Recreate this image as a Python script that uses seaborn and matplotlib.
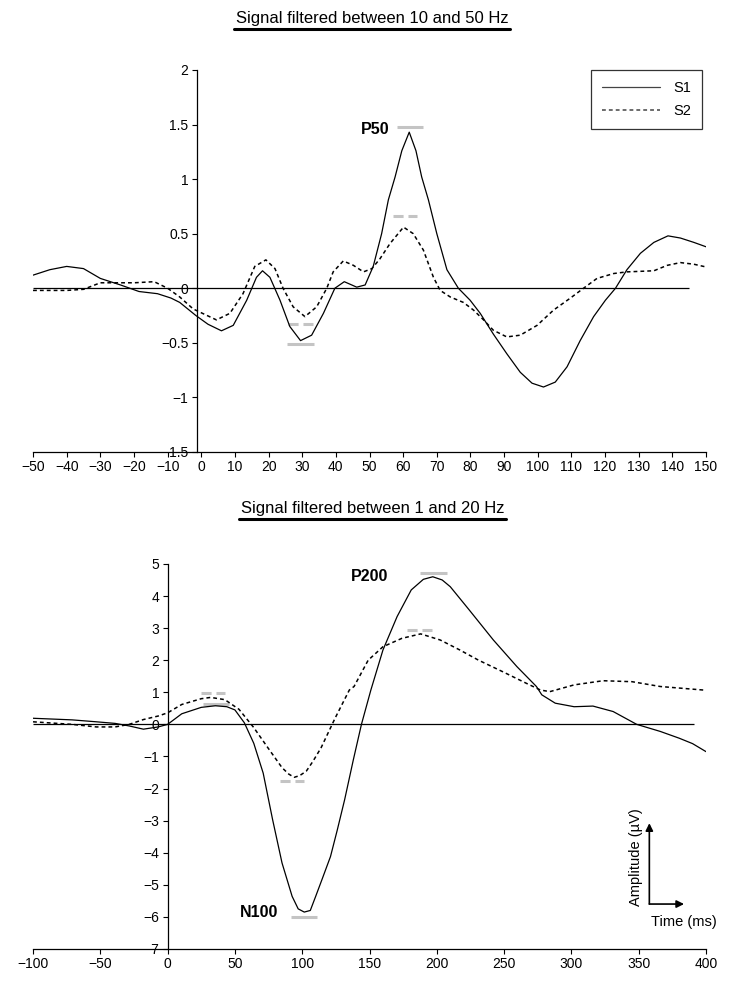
import numpy as np
import pandas as pd
import matplotlib
matplotlib.use('Agg')
import matplotlib.pyplot as plt
import seaborn as sns
from matplotlib.lines import Line2D

# --- signal filtered between 10 and 50 Hz (top panel) ---
top_t_s1 = [-50, -45, -40, -35, -30, -24, -18.5, -13, -9, -6.4, -1.6, 2, 6, 9.5, 13.5, 16.4, 18.2, 20.4, 23.4, 26.3,
            29.5, 32.8, 36.3, 39.7, 42.5, 46.2, 48.7, 51.1, 53.6, 55.6, 57.6, 59.6, 61.8, 63.8, 65.5, 67.5, 70, 73,
            76.4, 79.9, 82.9, 86.8, 90.8, 94.8, 98.3, 101.7, 105.2, 108.7, 112.6, 116.6, 120.1, 123.1, 126.5,
            130.5, 134.5, 138.7, 142.4, 146.4, 150]
top_s1 = [0.12, 0.17, 0.20, 0.18, 0.09, 0.03, -0.03, -0.05, -0.09, -0.13, -0.25, -0.33, -0.39, -0.34, -0.11, 0.10, 0.16, 0.10, -0.11, -0.35,
          -0.48, -0.43, -0.23, 0.0, 0.06, 0.01, 0.03, 0.20, 0.50, 0.81, 1.02, 1.26, 1.43, 1.26, 1.02, 0.81, 0.50, 0.17,
          0.0, -0.11, -0.23, -0.42, -0.60, -0.77, -0.87, -0.905, -0.86, -0.72, -0.48, -0.26, -0.11, 0.0, 0.17,
          0.32, 0.42, 0.48, 0.46, 0.42, 0.38]
top_t_s2 = [-50, -40, -35, -30, -25, -20, -14, -10, -6.4, -2.4, 4.5, 8.5, 12.4, 15.9, 19.2, 21.9, 24.3, 27.3, 30.8, 34.3,
            37.3, 39.2, 42.2, 45.2, 48.2, 50.7, 53.1, 56.1, 60.1, 63, 66, 69, 71, 74, 77.9, 80.9, 83.9, 86.8, 90.8,
            94.8, 99.8, 104.7, 109.7, 113.6, 117.6, 122.6, 126.5, 134.5, 138.5, 142.4, 146.4, 150]
top_s2 = [-0.02, -0.02, -0.01, 0.05, 0.05, 0.05, 0.06, 0.0, -0.08, -0.19, -0.29, -0.23, -0.05, 0.20, 0.26, 0.18, 0.0, -0.17, -0.26, -0.17,
          0.0, 0.15, 0.25, 0.21, 0.15, 0.18, 0.27, 0.41, 0.56, 0.50, 0.35, 0.10, -0.02, -0.08, -0.13, -0.20, -0.29, -0.385, -0.446,
          -0.43, -0.34, -0.20, -0.09, 0.0, 0.09, 0.135, 0.15, 0.16, 0.21, 0.235, 0.22, 0.195]

# --- signal filtered between 1 and 20 Hz (bottom panel) ---
bot_t_s1 = [-100, -71, -53, -39, -28.5, -18, -7, 0, 10.5, 25, 35.5, 44, 50, 57, 64, 71, 78, 85, 92.5, 97,
            101.5, 106, 110, 115, 121, 126, 131.5, 138, 144, 151, 160, 170.5, 181, 190, 197, 204, 210, 224, 242,
            259.5, 274, 278, 288, 302, 316, 331, 348.5, 366, 380, 390, 400]
bot_s1 = [0.19, 0.14, 0.08, 0.03, -0.05, -0.15, -0.08, 0.0, 0.33, 0.53, 0.58, 0.55, 0.45, 0.05, -0.59, -1.52, -2.97, -4.32, -5.36, -5.75,
          -5.85, -5.80, -5.36, -4.80, -4.12, -3.30, -2.35, -1.10, 0.0, 1.07, 2.32, 3.36, 4.19, 4.52, 4.60, 4.50, 4.29, 3.57, 2.63,
          1.80, 1.18, 0.92, 0.66, 0.55, 0.57, 0.40, 0.0, -0.22, -0.43, -0.60, -0.85]
bot_t_s2 = [-100, -71, -53, -39, -28.5, -18, -7, 0, 10.5, 25, 32, 42.5, 53, 64, 74.5, 85, 90, 94, 98, 103,
            108, 114, 124.5, 135, 138.5, 149, 160, 174, 188, 202.5, 217, 231, 249, 266.5, 277, 284, 302, 323.5, 345,
            366, 398]
bot_s2 = [0.08, 0.0, -0.08, -0.08, 0.0, 0.15, 0.26, 0.36, 0.62, 0.80, 0.84, 0.77, 0.47, -0.10, -0.73, -1.35, -1.55, -1.65, -1.60, -1.46,
          -1.15, -0.73, 0.20, 1.07, 1.18, 2.00, 2.42, 2.68, 2.82, 2.63, 2.32, 2.00, 1.64, 1.28, 1.07, 1.02, 1.23, 1.36, 1.33,
          1.18, 1.07]

# gray reference bars at the measured peaks: (y, xmin, xmax)
top_bar_s1 = [(1.477, 58.1, 66.0), (-0.51, 25.5, 33.5)]
top_bar_s2 = [(0.66, 57.1, 64.0), (-0.33, 25.8, 33.3)]
bot_bar_s1 = [(4.72, 187.7, 207.2), (0.64, 26.6, 45.4), (-5.99, 91.7, 110.9)]
bot_bar_s2 = [(2.95, 178.0, 196.2), (0.99, 24.8, 42.6), (-1.78, 83.5, 101.6)]

# peak names
top_peaks = [('P50', 55.8, 1.456)]
bot_peaks = [('P200', 164.0, 4.60), ('N100', 82.5, -5.86)]

top_xticks = np.arange(-50, 151, 10)
top_yticks = np.arange(-1.5, 2.01, 0.5)
bot_xticks = np.arange(-100, 401, 50)
bot_yticks = np.arange(-7, 6, 1)

sns.set_style('ticks')
plt.rcParams['font.family'] = ['Liberation Sans', 'DejaVu Sans']
plt.rcParams['axes.unicode_minus'] = True
for k in ['text.color', 'axes.labelcolor', 'xtick.color', 'ytick.color']:
    plt.rcParams[k] = 'black'

fig = plt.figure(figsize=(7.49, 9.84), dpi=100)
ax1 = fig.add_axes([0.0441, 0.5407, 0.8985, 0.3882])
ax2 = fig.add_axes([0.0441, 0.0356, 0.8985, 0.3913])

s2_dash = (0, (2.5, 2))
bar_col = '#c4c4c4'


def fmt(v, pos):
    return f'{v:g}'.replace('-', '\u2212')


def style_axis(ax, xlim, ylim, xticks, yticks, zero_end, spine_x):
    ax.set_xlim(*xlim)
    ax.set_ylim(*ylim)
    ax.set_xticks(xticks)
    ax.set_yticks(yticks)
    ax.xaxis.set_major_formatter(plt.FuncFormatter(fmt))
    ax.yaxis.set_major_formatter(plt.FuncFormatter(fmt))
    for s in ['top', 'right']:
        ax.spines[s].set_visible(False)
    ax.spines['left'].set_position(('data', spine_x))
    for s in ['left', 'bottom']:
        ax.spines[s].set_linewidth(0.9)
        ax.spines[s].set_color('black')
    ax.tick_params(axis='both', direction='out', length=3.5, width=0.8, labelsize=10,
                   colors='black', pad=2.5)
    ax.hlines(0, xlim[0], zero_end, color='black', lw=0.9, zorder=1)
    ax.set_xlabel('')
    ax.set_ylabel('')


def draw_bars(ax, bars, dashed):
    for y, x0, x1 in bars:
        ax.hlines(y, x0, x1, color=bar_col, lw=2.2,
                  linestyle=(0, (3.3, 1.6)) if dashed else '-', zorder=2)


# top panel
draw_bars(ax1, top_bar_s1, False)
draw_bars(ax1, top_bar_s2, True)
sns.lineplot(x=top_t_s1, y=top_s1, ax=ax1, color='black', lw=0.9, label='S1', zorder=3)
sns.lineplot(x=top_t_s2, y=top_s2, ax=ax1, color='black', lw=1.1, linestyle=s2_dash, label='S2', zorder=3)
style_axis(ax1, (-50, 150), (-1.5, 2), top_xticks, top_yticks, 145, -1.3)
for name, x, y in top_peaks:
    ax1.text(x, y, name, ha='right', va='center', fontsize=11.5, fontweight='bold')

leg = ax1.legend(loc='upper right', bbox_to_anchor=(0.994, 1.0), borderaxespad=0,
                 frameon=True, fancybox=False, fontsize=10.5, handlelength=4.0,
                 labelspacing=0.65, borderpad=0.75, handletextpad=0.9)
leg.get_frame().set_edgecolor('black')
leg.get_frame().set_linewidth(0.9)
for h in leg.get_lines():
    h.set_color('#444444')

# bottom panel
draw_bars(ax2, bot_bar_s1, False)
draw_bars(ax2, bot_bar_s2, True)
sns.lineplot(x=bot_t_s1, y=bot_s1, ax=ax2, color='black', lw=0.9, zorder=3)
sns.lineplot(x=bot_t_s2, y=bot_s2, ax=ax2, color='black', lw=1.1, linestyle=s2_dash, zorder=3)
style_axis(ax2, (-100, 400), (-7, 5), bot_xticks, bot_yticks, 391, 0)
for name, x, y in bot_peaks:
    ax2.text(x, y, name, ha='right', va='center', fontsize=11.5, fontweight='bold')

# scale indicator
arr = dict(arrowstyle='-|>', color='black', lw=1.2, mutation_scale=11, shrinkA=0, shrinkB=0)
ax2.annotate('', xy=(357.9, -3.08), xytext=(357.9, -5.60), arrowprops=arr)
ax2.annotate('', xy=(383.7, -5.60), xytext=(357.9, -5.60), arrowprops=arr)
ax2.text(348, -4.13, 'Amplitude (\u00b5V)', rotation=90, ha='center', va='center', fontsize=10.5)
ax2.text(383.7, -6.17, 'Time (ms)', ha='center', va='center', fontsize=10.5)

# underlined panel titles
titles = [('Signal filtered between 10 and 50 Hz', 0.497, 0.9766),
          ('Signal filtered between 1 and 20 Hz', 0.497, 0.4787)]
renderer = fig.canvas.get_renderer()
for txt, x, y in titles:
    t = fig.text(x, y, txt, ha='center', va='baseline', fontsize=12)
    bb = t.get_window_extent(renderer).transformed(fig.transFigure.inverted())
    fig.add_artist(Line2D([bb.x0 - 0.002, bb.x1 + 0.002], [y - 0.0065, y - 0.0065],
                          transform=fig.transFigure, color='black', lw=2.2))

fig.savefig('out.png', dpi=100)
